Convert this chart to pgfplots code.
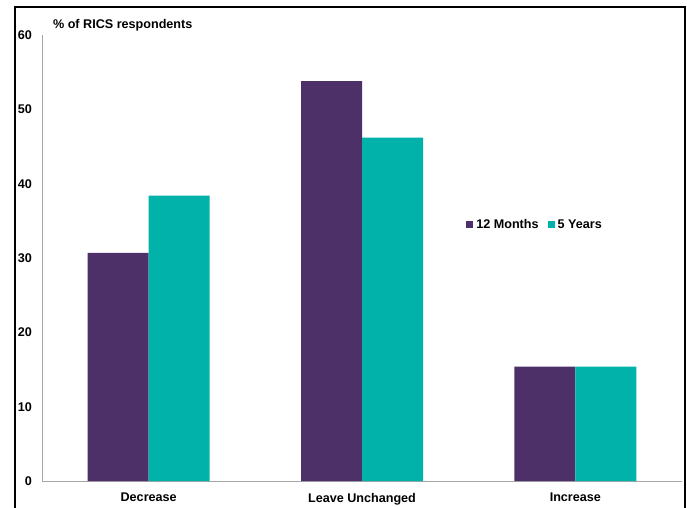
\documentclass[border=0pt]{standalone}
\usepackage{fontspec}
\setmainfont{Liberation Sans}
\usepackage{pgfplots}
\pgfplotsset{compat=1.18}
\definecolor{cpurple}{RGB}{77,48,104}
\definecolor{cteal}{RGB}{0,178,169}
\begin{document}
\fontsize{12.6}{14}\selectfont
\begin{tikzpicture}[x=1pt,y=1pt]
\clip (-42,-26) rectangle (645,481);
\useasboundingbox (-42,-26) rectangle (645,481);
\draw[line width=2.5pt] (-27,-60) rectangle (643,474);
\begin{axis}[
  at={(0,0)}, anchor=south west,
  scale only axis, width=640pt, height=446pt,
  ybar=0pt, bar width=61pt,
  xmin=-0.5, xmax=2.5, ymin=0, ymax=60,
  axis x line=bottom, axis y line=left,
  axis line style={draw=gray!70, -, line width=1pt},
  major tick length=0pt,
  xtick=data, xticklabels={Decrease, Leave Unchanged, Increase},
  ytick={0,10,...,60},
  /pgf/number format/assume math mode=true,
  yticklabel style={font=\bfseries, inner sep=0pt, anchor=east, xshift=-10pt},
  xticklabel style={font=\bfseries, inner sep=0pt, anchor=north, yshift=-12pt},
  clip=false,
  legend columns=2,
  legend style={draw=none, fill=none, font=\bfseries, at={(rel axis cs:0.658,0.574)}, anchor=west,
    /tikz/every odd column/.append style={column sep=1pt},
    /tikz/every even column/.append style={column sep=7pt}},
  legend image code/.code={\fill[#1] (0pt,-3.5pt) rectangle (7pt,3.5pt);},
]
\addplot[fill=cpurple, draw=none] coordinates {(0,30.7) (1,53.8) (2,15.4)};
\addplot[fill=cteal, draw=none] coordinates {(0,38.4) (1,46.2) (2,15.4)};
\legend{12 Months, 5 Years}
\node[anchor=west, font=\bfseries, inner sep=0pt] at (rel axis cs:0.017,1.022) {\% of RICS respondents};
\end{axis}
\end{tikzpicture}
\end{document}
